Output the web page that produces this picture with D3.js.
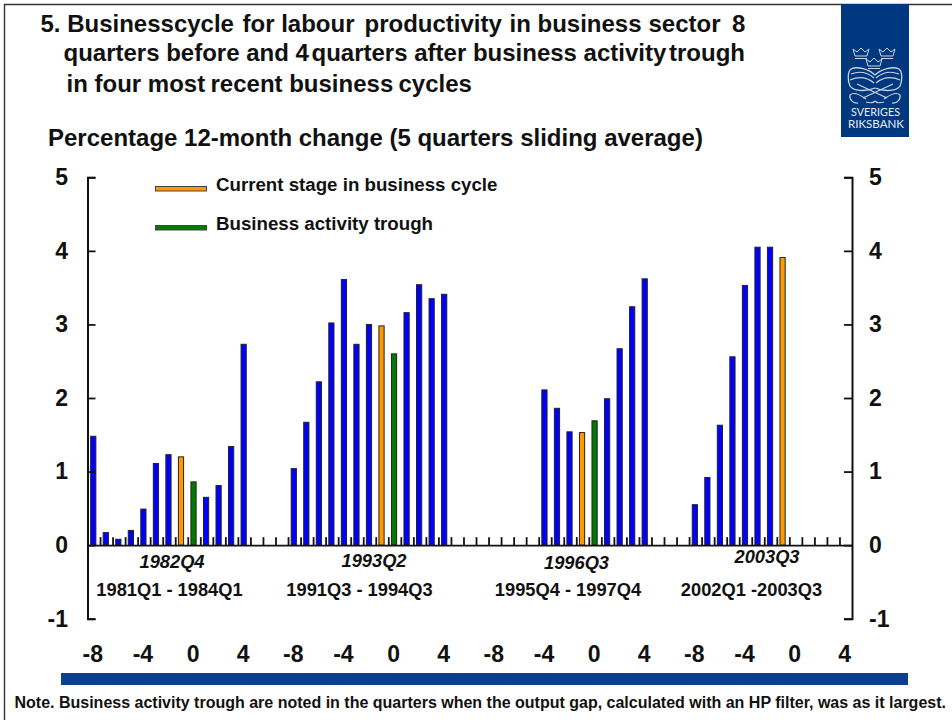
<!DOCTYPE html>
<html>
<head>
<meta charset="utf-8">
<script src="https://cdnjs.cloudflare.com/ajax/libs/d3/7.8.5/d3.min.js"></script>
<style>
html,body{margin:0;padding:0;background:#fff;overflow:hidden}
svg{display:block}
text{font-family:"Liberation Sans",Arial,sans-serif;font-weight:bold;fill:#111}
</style>
</head>
<body>
<svg id="c" width="952" height="720"></svg>
<script>
// ---- data ----
const cycle1 = [1.48,0.17,0.08,0.20,0.49,1.11,1.23,1.20,0.86,0.65,0.81,1.34,2.73];
const cycle2 = [1.04,1.67,2.22,3.02,3.61,2.73,3.00,2.98,2.60,3.16,3.54,3.35,3.41];
const cycle3 = [null,null,null,null,2.11,1.86,1.54,1.53,1.69,1.99,2.67,3.24,3.62];
const cycle4 = [0.55,0.92,1.63,2.56,3.53,4.05,4.05,3.91];
const cycles = [cycle1,cycle2,cycle3,cycle4];
const cycleOffsets = [0,16,32,48];
const currentIdx = [7,7,7,7];       // quarter -1 of each cycle
const troughIdx = [8,8,8,null];     // quarter 0 of each cycle
const quarterLabels = ["-8","-4","0","4"];
const quarterOffsets = [0,4,8,12];
const yTicks = [-1,0,1,2,3,4,5];
const troughLabels = ["1982Q4","1993Q2","1996Q3","2003Q3"];
const rangeLabels = ["1981Q1 - 1984Q1","1991Q3 - 1994Q3","1995Q4 - 1997Q4","2002Q1 -2003Q3"];
const titleSegments = [
  ["5. Businesscycle",40.5,32],["for labour",242.5,32],["productivity",364.5,32],["in business",509.5,31.5],["sector",648.5,32],["8",732,32],
  ["quarters before and 4",63.5,60.5],["quarters after business activity",311.5,60.5],["trough",669,60.5],
  ["in four most",66.5,91.5],["recent business",210.5,91.5],["cycles",398.5,91.5]
];
const subtitle = "Percentage 12-month change (5 quarters sliding average)";
const legendItems = [["Current stage in business cycle","#ff9900"],["Business activity trough","#007a00"]];
const note = "Note. Business activity trough are noted in the quarters when the output gap, calculated with an HP filter, was as it largest.";

const BLUE="#0000ff", ORANGE="#ff9900", GREEN="#007a00";
const svg = d3.select("#c");

// frame
svg.append("path").attr("d","M4.5,720V4.5H952").attr("fill","none").attr("stroke","#333").attr("stroke-width",1.4);

// scales
const x = d3.scaleLinear().domain([0,61]).range([87.5,852]);
const y = d3.scaleLinear().domain([-1,5]).range([618.7,177.3]);

// titles
svg.append("g").selectAll("text").data(titleSegments).join("text")
  .attr("x",d=>d[1]).attr("y",d=>d[2]).attr("font-size",24).text(d=>d[0]);
svg.append("text").attr("x",48).attr("y",145.5).attr("font-size",24).text(subtitle);

// bars
const bars = [];
cycles.forEach((vals,c)=>vals.forEach((v,i)=>{
  if(v===null) return;
  bars.push({slot:cycleOffsets[c]+i,v,fill:i===currentIdx[c]?ORANGE:(i===troughIdx[c]?GREEN:BLUE)});
}));
svg.append("g").selectAll("rect").data(bars).join("rect")
  .attr("x",d=>x(d.slot+0.5)-3.1).attr("width",5.2)
  .attr("y",d=>y(d.v)).attr("height",d=>y(0)-y(d.v))
  .attr("fill",d=>d.fill).attr("stroke","#222").attr("stroke-width",1);

// axes
const yFmt = d=>String(d);
const axL = svg.append("g").attr("transform",`translate(${x(0)},0)`)
  .call(d3.axisLeft(y).tickValues(yTicks).tickFormat(yFmt).tickSizeInner(-8).tickSizeOuter(-8).tickPadding(19.5));
const axR = svg.append("g").attr("transform",`translate(${x(61)},0)`)
  .call(d3.axisRight(y).tickValues(yTicks).tickFormat(yFmt).tickSizeInner(-8).tickSizeOuter(-8).tickPadding(17));
const axX = svg.append("g").attr("transform",`translate(0,${y(0)})`)
  .call(d3.axisTop(x).tickValues(d3.range(1,61)).tickFormat("").tickSize(8).tickSizeOuter(0));
[axL,axR,axX].forEach(a=>{
  a.selectAll("path,line").attr("stroke","#111").attr("stroke-width",1.8);
  a.selectAll("text").attr("font-size",23).attr("font-family",'"Liberation Sans",Arial,sans-serif').attr("font-weight","bold").attr("fill","#111");
  a.attr("font-family",null).attr("font-size",null);
});
axL.select(".domain").attr("stroke-width",2);
axR.select(".domain").attr("stroke-width",2);

// quarter labels
const qLabels=[];
cycleOffsets.forEach(o=>quarterLabels.forEach((t,i)=>qLabels.push({t,slot:o+quarterOffsets[i]})));
svg.append("g").selectAll("text").data(qLabels).join("text")
  .attr("x",d=>x(d.slot+0.5)-1).attr("y",661.5).attr("text-anchor","middle").attr("font-size",23).text(d=>d.t);

// cycle labels
const troughX=[172,374,576.5,767];
const troughYs=[568,567,569,563];
svg.append("g").selectAll("text").data(troughLabels).join("text")
  .attr("x",(d,i)=>troughX[i]).attr("y",(d,i)=>troughYs[i]).attr("text-anchor","middle")
  .attr("font-size",18.3).attr("font-style","italic").text(d=>d);
const rangeX=[169.5,359.5,568,751.5];
svg.append("g").selectAll("text").data(rangeLabels).join("text")
  .attr("x",(d,i)=>rangeX[i]).attr("y",596).attr("text-anchor","middle")
  .attr("font-size",18.3).text(d=>d);

// legend
const lg = svg.append("g").selectAll("g").data(legendItems).join("g")
  .attr("transform",(d,i)=>`translate(0,${i*39})`);
lg.append("rect").attr("x",155.5).attr("y",186.5).attr("width",51).attr("height",4.5)
  .attr("fill",d=>d[1]).attr("stroke","#444").attr("stroke-width",1);
lg.append("text").attr("x",216).attr("y",191).attr("font-size",18.7).text(d=>d[0]);

// bottom band and note
svg.append("rect").attr("x",61).attr("y",673).attr("width",847).attr("height",12).attr("fill","#0f3f8f");
svg.append("text").attr("x",14.5).attr("y",707.5).attr("font-size",16).text(note);

// logo
const logo = svg.append("g");
logo.append("rect").attr("x",841).attr("y",4).attr("width",68).attr("height",133).attr("fill","#00387f");
const ink="#c9d5e6";
const crown = "M-8,-4 L-4,-1 L0,-5 L4,-1 L8,-4 L6,3 L-6,3 Z M-6,5.5 H6";
[[861,53],[887,53],[874,63]].forEach(p=>{
  logo.append("path").attr("transform",`translate(${p[0]},${p[1]})`).attr("d",crown)
    .attr("fill","none").attr("stroke",ink).attr("stroke-width",1);
});
[1,-1].forEach(s=>{
  const h = logo.append("g").attr("transform",`translate(875,0) scale(${s},1)`)
    .attr("fill","none").attr("stroke",ink);
  h.append("path").attr("d","M0,75 C-6,69 -18,66 -24,69 C-28,72 -27,82 -25,86 C-22,91 -10,92 0,88").attr("stroke-width",1.3);
  h.append("path").attr("d","M-24,74 C-16,71 -8,72 -1,78 M-25,80 C-16,76 -8,77 -1,83").attr("stroke-width",1.1);
  h.append("path").attr("d","M18,84 L-12,98").attr("stroke-width",1.3);
  h.append("path").attr("d","M-9,99 C-16,94 -22,92 -25,95 C-26,99 -22,104 -17,103 M-9,102 C-2,104 -1,102 0,101").attr("stroke-width",1.2);
});
logo.append("text").attr("x",875.5).attr("y",115.5).attr("text-anchor","middle").attr("font-size",10.5)
  .attr("textLength",49).attr("lengthAdjust","spacingAndGlyphs")
  .style("font-family","Lato").style("font-weight","normal").style("fill","#e8edf4").text("SVERIGES");
logo.append("text").attr("x",876).attr("y",127.5).attr("text-anchor","middle").attr("font-size",10.5)
  .attr("textLength",56).attr("lengthAdjust","spacingAndGlyphs")
  .style("font-family","Lato").style("font-weight","normal").style("fill","#e8edf4").text("RIKSBANK");
</script>
</body>
</html>
